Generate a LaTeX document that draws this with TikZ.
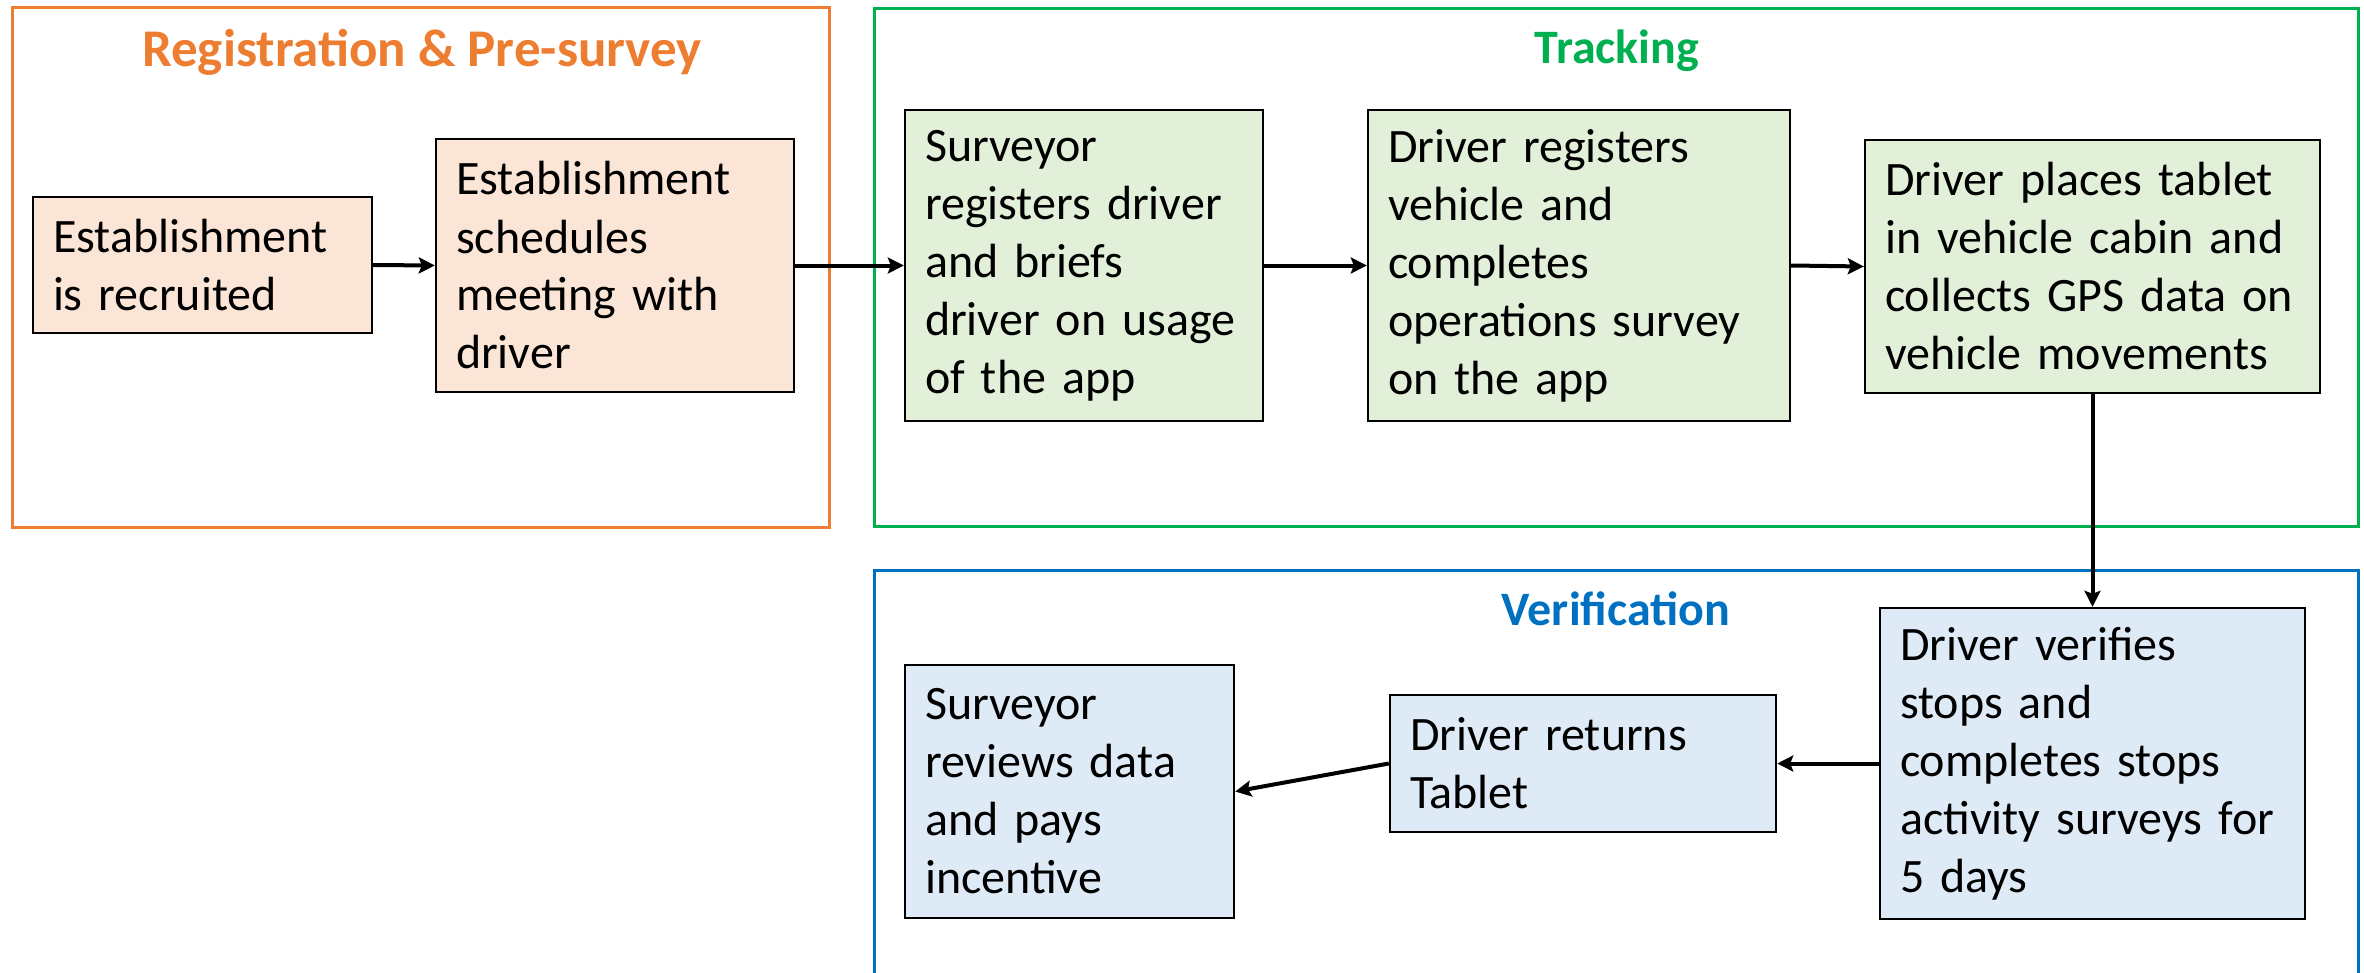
\documentclass[tikz,border=0pt]{standalone}
\usepackage{fontspec}
\setmainfont{Carlito}
\usetikzlibrary{arrows.meta}
\definecolor{corange}{HTML}{ED7D31}
\definecolor{cgreen}{HTML}{00B050}
\definecolor{cblue}{HTML}{0070C0}
\definecolor{forange}{HTML}{FBE5D6}
\definecolor{fgreen}{HTML}{E2F0D9}
\definecolor{fblue}{HTML}{DEEBF7}
\begin{document}
\begin{tikzpicture}[x=0.5pt,y=-0.5pt,
  frame/.style={line width=1.5pt},
  ttl/.style={font=\fontsize{24}{29}\selectfont\bfseries, anchor=base, inner sep=0pt},
  box/.style={draw=black, line width=1.2pt, inner xsep=10pt, inner ysep=0pt, align=left,
    font=\fontsize{24}{29}\selectfont},
  arr/.style={line width=2pt, -{Stealth[length=8pt,width=8pt,inset=1.5pt]}}]
\useasboundingbox (0,0) rectangle (2364,973);
% frames
\draw[frame, corange] (12,8) rectangle (829,527);
\draw[frame, cgreen] (874,9) rectangle (2358,526);
\draw[frame, cblue] (874,990) -- (874,570) -- (2358,570) -- (2358,990);
% titles
\node[ttl, corange, font=\fontsize{26.5}{31}\selectfont\bfseries] (t1) at (422,67) {Registration \& Pre-survey};
\node[ttl, cgreen] (t2) at (1617,64) {Tracking};
\node[ttl, cblue] (t3) at (1616,625) {Verification};
% boxes
\node[box, fill=forange, minimum width=169.5pt, minimum height=68pt, text width=149.5pt] (b1) at (202.5,265) {Establishment\\is recruited};
\node[box, fill=forange, minimum width=179pt, minimum height=126.5pt, text width=159pt] (b2) at (615,265.5) {Establishment\\schedules\\meeting with\\driver};
\node[box, fill=fgreen, minimum width=179pt, minimum height=155.5pt, text width=159pt] (b3) at (1084,265.5) {Surveyor\\registers driver\\and briefs\\driver on usage\\of the app};
\node[box, fill=fgreen, minimum width=211pt, minimum height=155.5pt, text width=191pt] (b4) at (1579,265.5) {Driver registers\\vehicle and\\completes\\operations survey\\on the app};
\node[box, fill=fgreen, minimum width=227.5pt, minimum height=126.5pt, text width=207.5pt] (b5) at (2092.5,266.5) {Driver places tablet\\in vehicle cabin and\\collects GPS data on\\vehicle movements};
\node[box, fill=fblue, minimum width=212.5pt, minimum height=155.5pt, text width=192.5pt] (b6) at (2092.5,763.5) {Driver verifies\\stops and\\completes stops\\activity surveys for\\5 days};
\node[box, fill=fblue, minimum width=193pt, minimum height=68.5pt, text width=173pt] (b7) at (1583,763.5) {Driver returns\\Tablet};
\node[box, fill=fblue, minimum width=164.5pt, minimum height=126.5pt, text width=144.5pt] (b8) at (1069.5,791.5) {Surveyor\\reviews data\\and pays\\incentive};
% arrows
\draw[arr] (b1.east) -- (b2.west);
\draw[arr] (b2.east) -- (b3.west);
\draw[arr] (b3.east) -- (b4.west);
\draw[arr] (b4.east) -- (b5.west);
\draw[arr] (b5.south) -- (b6.north);
\draw[arr] (b6.west) -- (b7.east);
\draw[arr] (b7.west) -- (b8.east);
\end{tikzpicture}
\end{document}
